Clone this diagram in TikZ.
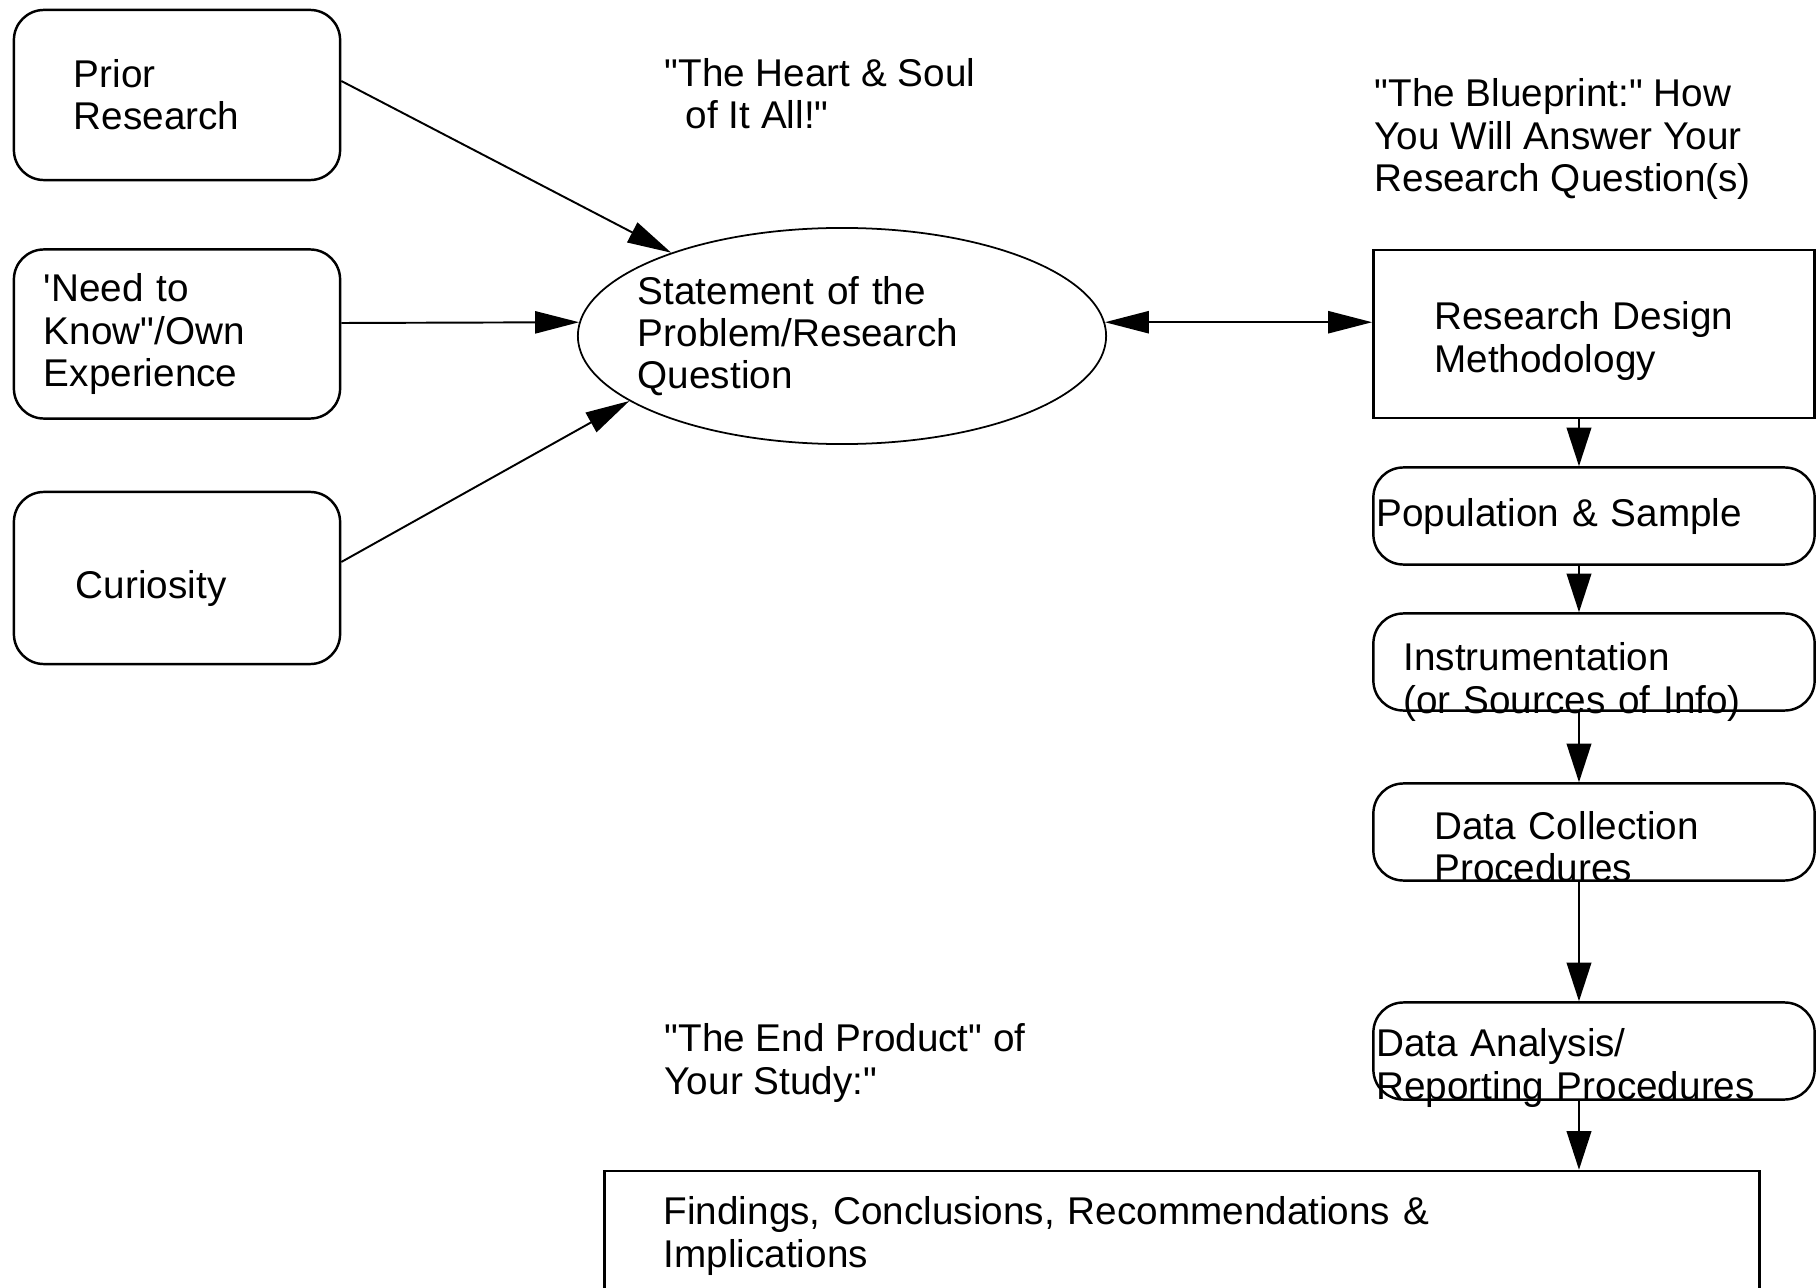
\documentclass[tikz,border=0pt]{standalone}
\usepackage{fontspec}
\setmainfont{Liberation Sans}[Ligatures=TeXOff]
\usetikzlibrary{arrows.meta,shapes.geometric}
\tikzset{edge/.style = {
    line width=0.55pt,
    -{Triangle[length=12.5pt, width=6.3pt]},
  }
}
\tikzset{flow/.style = {
    line width=0.6pt,
    -{Triangle[length=11pt, width=7pt]},
  }
}
\tikzset{firstline/.style = {text height=8pt, text depth=#1}}

\begin{document}
\begin{tikzpicture}[x=0.01cm, y=-0.01cm, font=\fontsize{11}{12}\selectfont]
  % styles
  \tikzstyle{source} = [rectangle, draw, line width=0.7pt, rounded corners=0.3cm, align=left, inner xsep=0pt, minimum width=3.26cm]
  \tikzstyle{stage} = [rectangle, draw, line width=0.7pt, rounded corners=0.3cm, align=left, inner xsep=0pt, minimum width=4.41cm, minimum height=0.97cm]
  \tikzstyle{plainbox} = [rectangle, draw, line width=0.7pt, align=left, inner xsep=0pt]
  \tikzstyle{remark} = [align=left, inner sep=0pt, anchor=west]

  \useasboundingbox (0,0) rectangle (1817,1288);
  \clip (0,0) rectangle (1817,1288);

  % sources
  \node[source, minimum height=1.70cm, text width=2.06cm] (prior) at (177,95)  {Prior\\Research};
  \node[source, minimum height=1.69cm, text width=2.66cm] (need)  at (177,334) {'Need to\\Know"/Own\\Experience};
  \node[source, minimum height=1.72cm, text width=2.02cm, text height=14pt, text depth=2.6pt] (cur) at (177,578) {Curiosity};

  \node[ellipse, draw, line width=0.5pt, align=left, text width=4.08cm, inner xsep=-0.18cm, inner ysep=0pt, minimum width=5.28cm, minimum height=2.16cm] (stmt) at (842,336) {Statement of the\\Problem/Research\\Question};

  % design steps
  \node[plainbox, text width=3.19cm, minimum width=4.41cm, minimum height=1.68cm, firstline=10.3pt] (rd) at (1594,334) {Research Design\\Methodology};
  \node[stage, text width=4.35cm] (pop)   at (1594,516)  {Population \& Sample};
  \node[stage, text width=3.81cm, firstline=2.9pt] (instr) at (1594,662)  {Instrumentation\\(or Sources of Info)};
  \node[stage, text width=3.19cm, firstline=4pt]   (dc)    at (1594,832)  {Data Collection\\Procedures};
  \node[stage, text width=4.35cm, firstline=4.6pt] (da)    at (1594,1051) {Data Analysis/\\Reporting Procedures};

  \node[plainbox, text width=10.36cm, minimum width=11.54cm, minimum height=1.30cm] (find) at (1182,1236) {Findings, Conclusions, Recommendations \&\\Implications};

  % remarks
  \node[remark] (heart) at (664,94)   {"The Heart \& Soul\\\hspace*{6pt}of It All!"};
  \node[remark] (blue)  at (1374,139) {"The Blueprint:" How\\You Will Answer Your\\Research Question(s)};
  \node[remark] (endp)  at (664,1063) {"The End Product" of\\Your Study:"};

  % arrows
  \draw[edge] ([yshift=0.14cm]prior.east) -- (stmt.154);
  \draw[edge] ([yshift=0.11cm]need.east) -- (stmt.177);
  \draw[edge] ([yshift=0.16cm]cur.east) -- (stmt.197);
  \draw[edge, {Triangle[length=12.5pt, width=6.3pt]}-{Triangle[length=12.5pt, width=6.3pt]}] (stmt.3) -- (stmt.3 -| rd.west);

  \foreach \a/\b in {rd/pop, pop/instr, instr/dc, dc/da, da/find}
    \draw[flow] ([xshift=-0.15cm]\a.south) -- ([xshift=-0.15cm]\a.south |- \b.north);
\end{tikzpicture}
\end{document}
